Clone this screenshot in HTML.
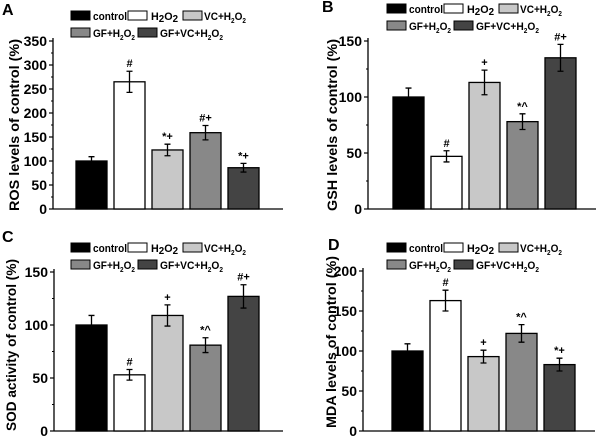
<!DOCTYPE html>
<html><head><meta charset="utf-8"><style>
body{margin:0;background:#fff}
svg{display:block;font-family:"Liberation Sans",Arial,sans-serif;font-weight:bold}
</style></head><body>
<svg id="c" width="600" height="445" viewBox="0 0 600 445"></svg>
<script>
const groups=["control","H2O2","VC+H2O2","GF+H2O2","GF+VC+H2O2"];
const rosValues=[100,265,123,159,86];
const rosErrors=[9,22,12,15,9];
const rosMarks=["","#","*+","#+","*+"];
const gshValues=[100,47,113,78,135];
const gshErrors=[8,5,11,7,12];
const gshMarks=["","#","+","*^","#+"];
const sodValues=[100,53,109,81,127];
const sodErrors=[9,5,10,7,11];
const sodMarks=["","#","+","*^","#+"];
const mdaValues=[100,163,93,122,83];
const mdaErrors=[9,13,8,11,8];
const mdaMarks=["","#","+","*^","*+"];
const rosTicks=[0,50,100,150,200,250,300,350];
const gshTicks=[0,50,100,150];
const sodTicks=[0,50,100,150];
const mdaTicks=[0,50,100,150,200];

const colors=["#000","#fff","#c8c8c8","#888","#444"];
const NS="http://www.w3.org/2000/svg";
const svg=document.getElementById('c');
function mk(t,a,p){const e=document.createElementNS(NS,t);for(const k in a)e.setAttribute(k,a[k]);(p||svg).appendChild(e);return e;}

const panels=[
 {id:"a",letter:"A",lx:2,ly:15,ax:53,axEnd:283,y0:209,yT:41,max:350,ticks:rosTicks,v:rosValues,e:rosErrors,m:rosMarks,bx:76,legX:71,legY:11,title:"ROS levels of control (%)",tx:19,ty:125},
 {id:"b",letter:"B",lx:322,ly:12,ax:368,axEnd:596,y0:209,yT:41,max:150,ticks:gshTicks,v:gshValues,e:gshErrors,m:gshMarks,bx:393,legX:387,legY:4,title:"GSH levels of control (%)",tx:337,ty:125},
 {id:"c",letter:"C",lx:2,ly:242,ax:54,axEnd:283,y0:431,yT:272,max:150,ticks:sodTicks,v:sodValues,e:sodErrors,m:sodMarks,bx:76,legX:71,legY:243,title:"SOD activity of control (%)",tx:16,ty:345},
 {id:"d",letter:"D",lx:328,ly:250,ax:363,axEnd:595,y0:431,yT:271,max:200,ticks:mdaTicks,v:mdaValues,e:mdaErrors,m:mdaMarks,bx:392,legX:387,legY:243,title:"MDA levels of control (%)",tx:336,ty:342}
];

const sub='<tspan font-size="7" dy="3">2</tspan>';
panels.forEach(p=>{
  const g=mk('g',{});
  
  
  const Y=v=>p.y0-(v/p.max)*(p.y0-p.yT);
  const L=mk('text',{x:p.lx,y:p.ly,'font-size':16},g);L.textContent=p.letter;
  
  const lg=mk('g',{},g);
  
  const items=[
   {dx:0,dy:0,tx:22,len:34,html:'control'},
   {dx:57,dy:0,tx:80,len:27,html:'H<tspan font-size="10" dy="2">2</tspan><tspan dy="-2">O</tspan><tspan font-size="10" dy="2">2</tspan>'},
   {dx:112,dy:0,tx:133,len:42,html:'VC+H'+sub+'<tspan dy="-3">O</tspan>'+sub},
   {dx:0,dy:17,tx:22,len:42,html:'GF+H'+sub+'<tspan dy="-3">O</tspan>'+sub},
   {dx:67,dy:17,tx:89,len:63,html:'GF+VC+H'+sub+'<tspan dy="-3">O</tspan>'+sub}
  ];
  items.forEach((it,i)=>{
    const r=mk('rect',{x:p.legX+it.dx,y:p.legY+it.dy,width:19,height:9,fill:colors[i],stroke:'#000','stroke-width':1},lg);
    
    const t=mk('text',{x:p.legX+it.tx,y:p.legY+it.dy+9,'font-size':11,textLength:it.len,lengthAdjust:'spacingAndGlyphs'},lg);
    
    t.innerHTML=it.html;
  });
  const ya=mk('line',{x1:p.ax,y1:p.yT-3,x2:p.ax,y2:p.y0,stroke:'#000','stroke-width':1.3},g);
  
  const xa=mk('line',{x1:p.ax,y1:p.y0,x2:p.axEnd,y2:p.y0,stroke:'#000','stroke-width':1.3},g);
  
  const step=p.ticks[1]-p.ticks[0];
  p.ticks.forEach((t,i)=>{
    const y=Y(t);
    mk('line',{x1:p.ax-4,y1:y,x2:p.ax,y2:y,stroke:'#000','stroke-width':1.2},g);
    if(i<p.ticks.length-1){const ym=Y(t+step/2);mk('line',{x1:p.ax-2,y1:ym,x2:p.ax,y2:ym,stroke:'#000','stroke-width':1},g);}
    const tl=mk('text',{x:p.ax-6,y:y+5,'font-size':14,'text-anchor':'end'},g);
    tl.textContent=t;
    
  });
  const yt=mk('text',{x:p.tx,y:p.ty,'font-size':14,'text-anchor':'middle',transform:'rotate(-90 '+p.tx+' '+p.ty+')',textLength:172,lengthAdjust:'spacingAndGlyphs'},g);
  yt.textContent=p.title;
  
  p.v.forEach((v,i)=>{
    const x=p.bx+i*38, w=31;
    const b=mk('rect',{x:x,y:Y(v),width:w,height:p.y0-Y(v),fill:colors[i],stroke:'#000','stroke-width':1.3},g);
    
    
    const cx=x+w/2, yh=Y(v+p.e[i]), yl=Y(v-p.e[i]);
    const eb=mk('path',{d:`M${cx} ${yh}V${yl}M${cx-3} ${yh}H${cx+3}M${cx-3} ${yl}H${cx+3}`,stroke:'#000','stroke-width':1.3,fill:'none'},g);
    
    if(p.m[i]){
      const mt=mk('text',{x:cx,y:yh-4,'font-size':11,'text-anchor':'middle'},g);
      mt.textContent=p.m[i];
      
    }
  });
});
</script>
</body></html>
